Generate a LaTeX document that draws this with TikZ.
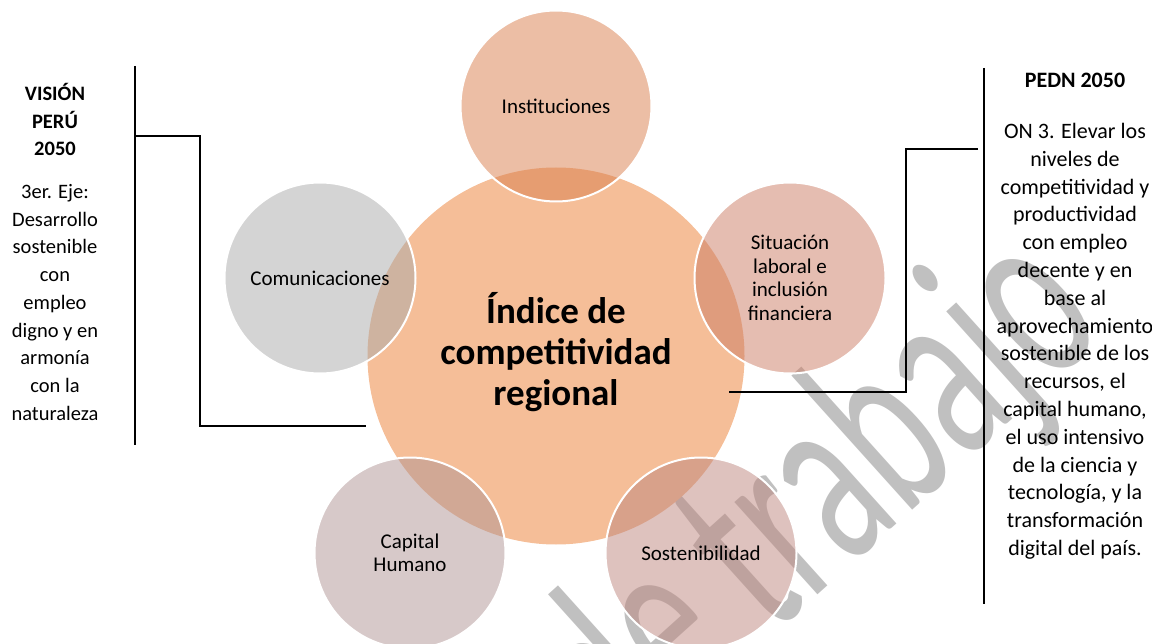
\documentclass[tikz,border=0pt]{standalone}
\usepackage{fontspec}
\setmainfont{Carlito}
\definecolor{cmain}{RGB}{245,190,152}
\definecolor{cinst}{RGB}{217,125,75}
\definecolor{ccom}{RGB}{169,169,169}
\definecolor{csit}{RGB}{203,123,99}
\definecolor{ccap}{RGB}{175,147,147}
\definecolor{csos}{RGB}{189,133,125}
\definecolor{wm}{RGB}{192,192,192}
\begin{document}
\begin{tikzpicture}[x=1pt,y=-1pt,
  outer/.style={circle, minimum size=191pt, inner sep=0pt, draw=white, line width=2pt,
    fill opacity=0.5, text opacity=1, align=center, font=\fontsize{21}{23.5}\selectfont},
  bigc/.style={circle, minimum size=377pt, inner sep=0pt, fill=cmain},
  coltext/.style={align=center, inner sep=0pt, anchor=north},
  bar/.style={line width=1.8pt, black},
  watermark/.style={text=wm, inner sep=0pt, anchor=base, font=\fontsize{260}{260}\selectfont}]
\useasboundingbox (0,0) rectangle (1152,644);
% watermark
\node[watermark, rotate=42, xscale=0.6] (wmk) at (868,550) {de trabajo};
% central
\node[bigc] (center) at (556,356) {};
% bars and connectors
\coordinate (lt) at (135,66);
\coordinate (lb) at (135,445);
\coordinate (lj) at (135,136);
\coordinate (lend) at (366,426);
\draw[bar] (lt) -- (lb);
\draw[bar] (lj) -- ++(65,0) |- (lend);
\coordinate (rt) at (984,68);
\coordinate (rb) at (984,604);
\coordinate (rj) at (978,149);
\coordinate (rend) at (729,392);
\draw[bar] (rt) -- (rb);
\draw[bar] (rj) -- ++(-72,0) |- (rend);
% outer circles
\node[outer, fill=cinst] (inst) at (556,106) {Instituciones};
\node[outer, fill=ccom] (com) at (320,278) {Comunicaciones};
\node[outer, fill=csit] (sit) at (790,278) {Situación\\laboral e\\inclusión\\financiera};
\node[outer, fill=ccap] (cap) at (410,553) {Capital\\Humano};
\node[outer, fill=csos] (sos) at (701,553) {Sostenibilidad};
% central text
\node[align=center, inner sep=0pt, font=\fontsize{37}{41}\selectfont\bfseries] (ctext) at (556,352)
  {Índice de\\competitividad\\regional};
% side texts
\node[coltext, font=\fontsize{20.5}{27.7}\selectfont] (vision) at (55,83)
  {\textbf{VISIÓN}\\\textbf{PERÚ}\\\textbf{2050}\\[15pt]3er. Eje:\\Desarrollo\\sostenible\\con\\empleo\\digno y en\\armonía\\con la\\naturaleza};
\node[coltext, font=\fontsize{22}{27.8}\selectfont] (pedn) at (1075,73)
  {\textbf{PEDN 2050}\\[23pt]ON 3. Elevar los\\niveles de\\competitividad y\\productividad\\con empleo\\decente y en\\base al\\aprovechamiento\\sostenible de los\\recursos, el\\capital humano,\\el uso intensivo\\de la ciencia y\\tecnología, y la\\transformación\\digital del país.};
\end{tikzpicture}
\end{document}
